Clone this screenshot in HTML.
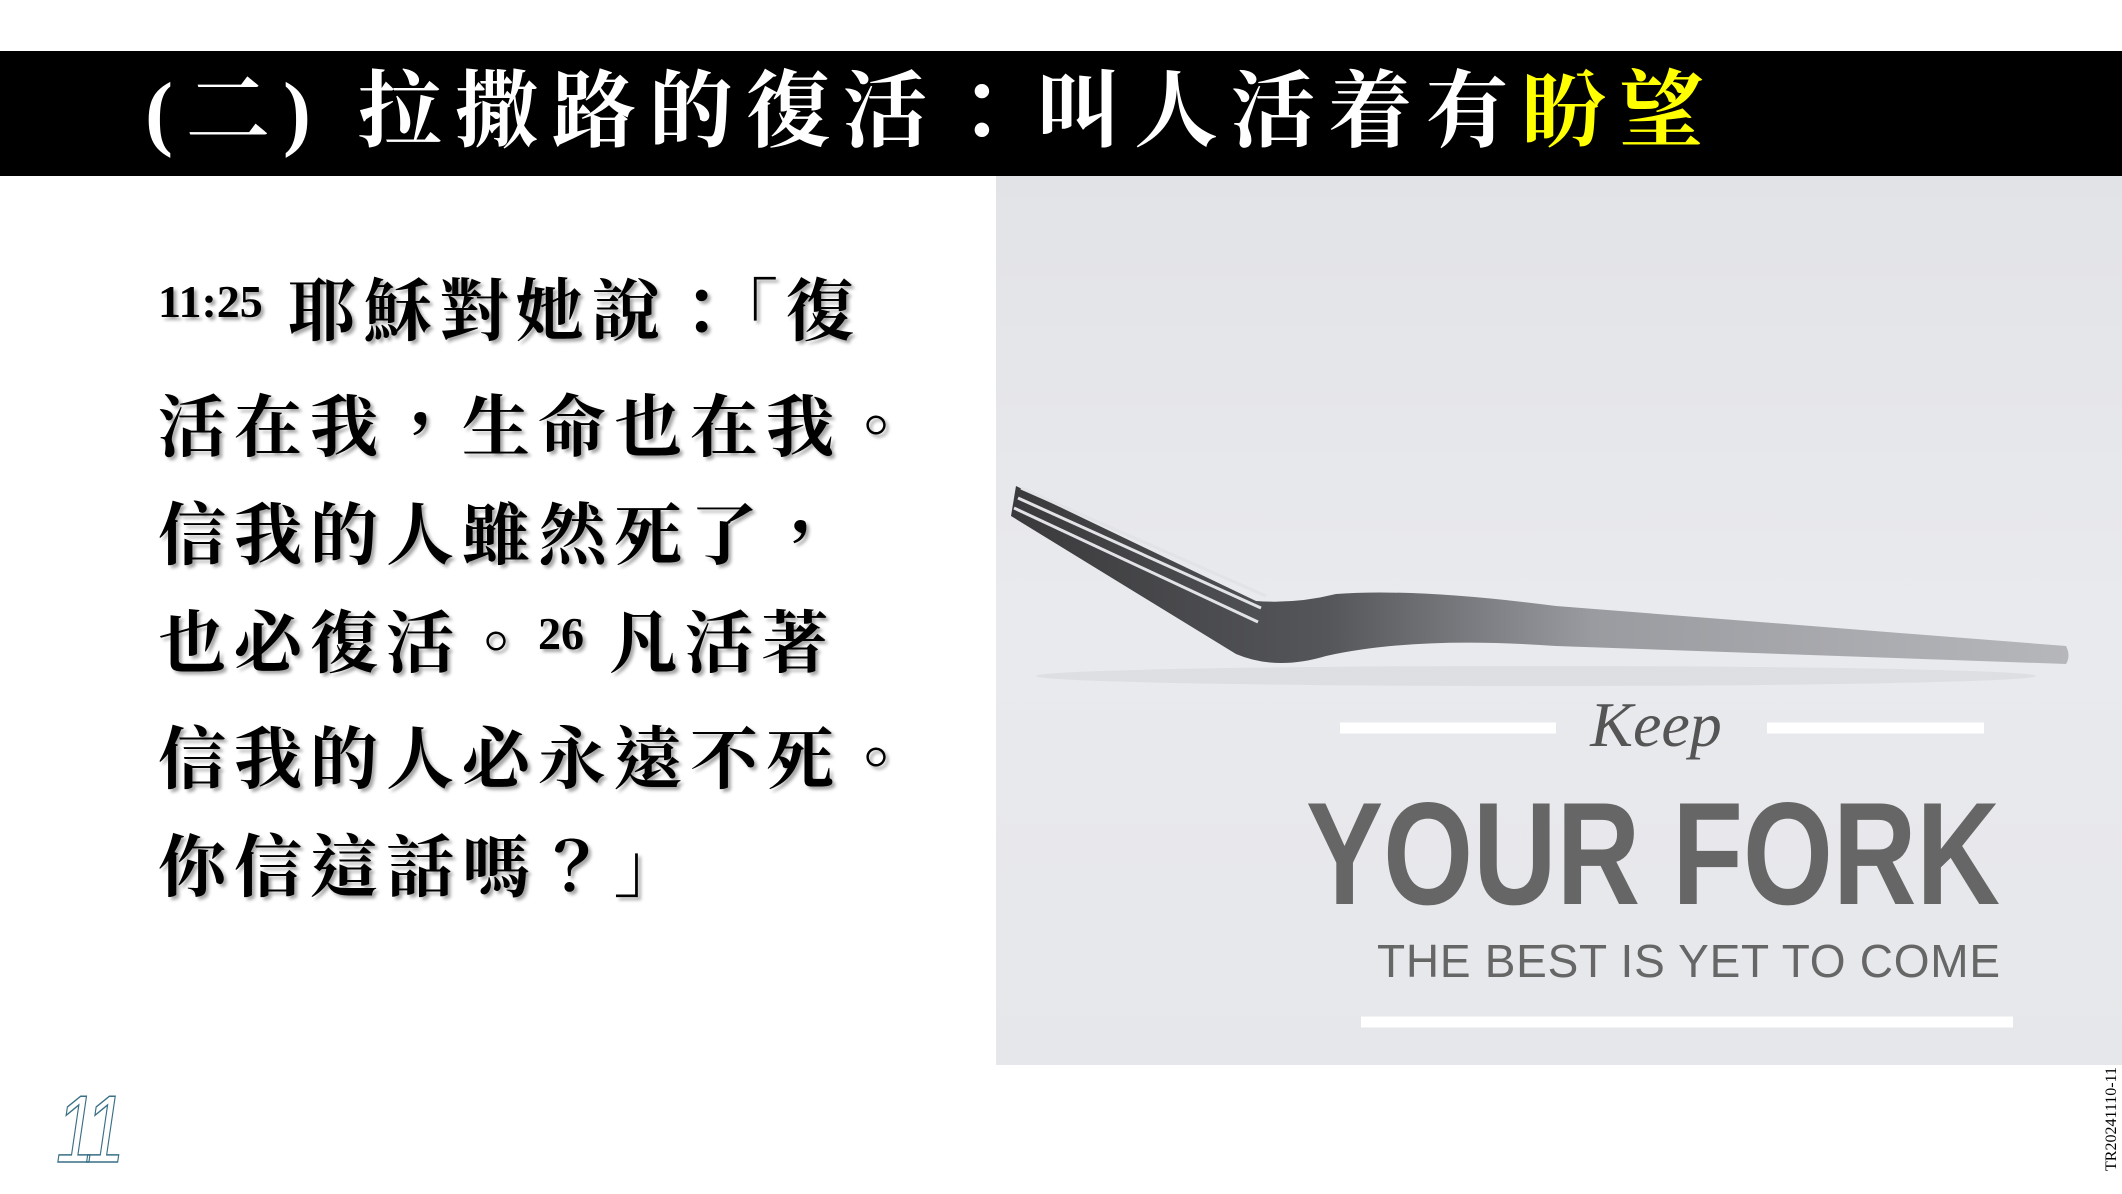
<!DOCTYPE html>
<html><head><meta charset="utf-8">
<style>
html,body{margin:0;padding:0;}
body{width:2122px;height:1194px;position:relative;overflow:hidden;background:#fff;font-family:"Liberation Serif","Noto Serif CJK SC",serif;}
#bar{position:absolute;left:0;top:51px;width:2122px;height:125px;background:#000;}
#title{position:absolute;left:145px;top:58px;font-size:84px;line-height:110px;color:#fff;font-weight:bold;letter-spacing:13px;white-space:nowrap;font-family:"Liberation Serif","Noto Serif CJK TC",serif;}
#title span{color:#ffff00;}
#verse{position:absolute;left:158px;top:258px;font-size:68px;line-height:108px;color:#000;font-weight:bold;font-family:"Liberation Serif","Noto Serif CJK TC",serif;text-shadow:3px 3px 3px rgba(0,0,0,.35);white-space:nowrap;letter-spacing:8px;}
#verse sup{font-size:46px;vertical-align:baseline;position:relative;top:-18px;letter-spacing:0;}
#photo{position:absolute;left:996px;top:176px;width:1126px;height:889px;background:linear-gradient(180deg,#e2e3e7 0%,#e9eaee 50%,#e6e7ea 100%);overflow:hidden;}
#num{position:absolute;left:56px;top:1075px;font-size:96px;font-style:italic;color:#fff;-webkit-text-stroke:1.5px #3a6f86;font-family:"Liberation Sans Narrow","Liberation Sans",sans-serif;letter-spacing:-8px;transform:scaleX(0.75);transform-origin:left;}
#code{position:absolute;left:2060px;top:1110px;transform:rotate(-90deg);font-size:16px;color:#000;white-space:nowrap;}
</style></head><body>
<div id="bar"></div>
<div id="title">(二) 拉撒路的復活：叫人活着有<span>盼望</span></div>
<div id="verse"><sup>11:25</sup> 耶穌對她說：「復<br>活在我，生命也在我。<br>信我的人雖然死了，<br>也必復活。<sup>26</sup> 凡活著<br>信我的人必永遠不死。<br>你信這話嗎？」</div>
<div id="photo">
<svg width="1126" height="889" viewBox="0 0 1126 889">
<defs><linearGradient id="fg" x1="0" x2="1"><stop offset="0" stop-color="#3a3a3c"/><stop offset=".3" stop-color="#55565a"/><stop offset=".55" stop-color="#9a9ba0"/><stop offset="1" stop-color="#b6b7bb"/></linearGradient></defs>
<g>
<path d="M20 310 L260 425 Q300 428 340 418 Q420 412 560 430 L1070 470 Q1075 480 1070 488 L560 470 Q420 460 330 480 Q280 495 240 478 L15 340 Z" fill="url(#fg)"/>
<path d="M25 312 L270 420 M22 322 L265 432 M18 332 L262 446" stroke="#e2e3e7" stroke-width="3"/>
<ellipse cx="540" cy="500" rx="500" ry="10" fill="#d2d3d7" opacity=".5"/>
</g>
<line x1="344" y1="552" x2="560" y2="552" stroke="#fff" stroke-width="11"/>
<line x1="771" y1="552" x2="988" y2="552" stroke="#fff" stroke-width="11"/>
<text x="660" y="570" text-anchor="middle" font-family="Liberation Serif,serif" font-style="italic" font-size="64" fill="#555">Keep</text>
<text x="1004" y="728" text-anchor="end" font-family="Liberation Sans,sans-serif" font-weight="bold" font-size="146" fill="#666" textLength="694" lengthAdjust="spacingAndGlyphs">YOUR FORK</text>
<text x="1004" y="801" text-anchor="end" font-family="Liberation Sans,sans-serif" font-size="46" fill="#666" textLength="623" lengthAdjust="spacing">THE BEST IS YET TO COME</text>
<line x1="365" y1="846" x2="1017" y2="846" stroke="#fff" stroke-width="11"/>
</svg>
</div>
<div id="num">11</div>
<div id="code">TR20241110-11</div>
</body></html>
